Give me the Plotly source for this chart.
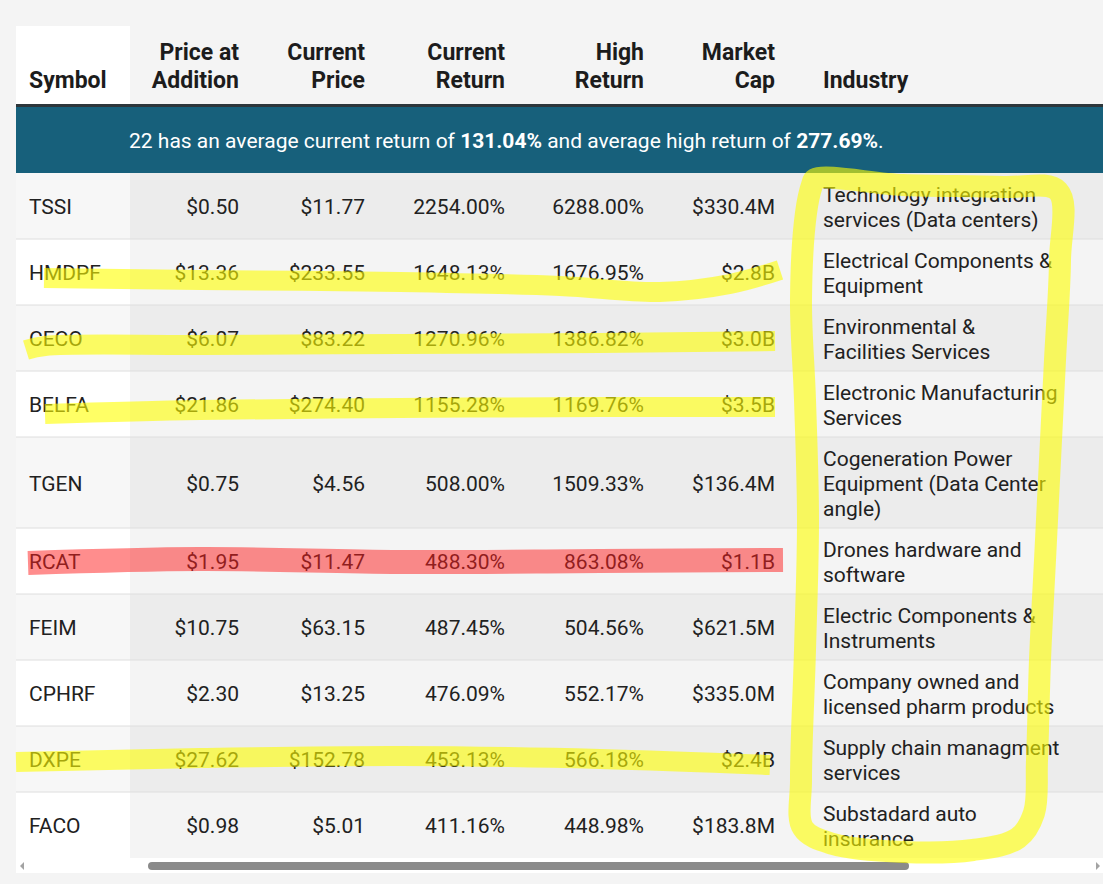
import plotly.graph_objects as go

# ---- table data ----
symbols = ["TSSI", "HMDPF", "CECO", "BELFA", "TGEN", "RCAT", "FEIM", "CPHRF", "DXPE", "FACO"]
price_at_addition = [0.50, 13.36, 6.07, 21.86, 0.75, 1.95, 10.75, 2.30, 27.62, 0.98]
current_price = [11.77, 233.55, 83.22, 274.40, 4.56, 11.47, 63.15, 13.25, 152.78, 5.01]
current_return = [2254.00, 1648.13, 1270.96, 1155.28, 508.00, 488.30, 487.45, 476.09, 453.13, 411.16]
high_return = [6288.00, 1676.95, 1386.82, 1169.76, 1509.33, 863.08, 504.56, 552.17, 566.18, 448.98]
market_cap = ["$330.4M", "$2.8B", "$3.0B", "$3.5B", "$136.4M", "$1.1B", "$621.5M", "$335.0M", "$2.4B", "$183.8M"]
industry = [
    "Technology integration<br>services (Data centers)",
    "Electrical Components &<br>Equipment",
    "Environmental &<br>Facilities Services",
    "Electronic Manufacturing<br>Services",
    "Cogeneration Power<br>Equipment (Data Center<br>angle)",
    "Drones hardware and<br>software",
    "Electric Components &<br>Instruments",
    "Company owned and<br>licensed pharm products",
    "Supply chain managment<br>services",
    "Substadard auto<br>insurance",
]
headers = ["Symbol", "Price at<br>Addition", "Current<br>Price", "Current<br>Return",
           "High<br>Return", "Market<br>Cap", "Industry"]
group_name = "22"
avg_current_return = 131.04
avg_high_return = 277.69

# rows marked with a highlighter in the screenshot
marked_rows = {"HMDPF": "yellow", "CECO": "yellow", "BELFA": "yellow", "RCAT": "red", "DXPE": "yellow"}

# ---- page geometry (pixels) ----
W, H = 1103, 884
LEFT = 16
HEAD_TOP, HEAD_BOT = 26, 104
RULE_BOT = 107
BANNER_BOT = 173
SYM_RIGHT = 130
col_x = [29, 239, 365, 505, 644, 775, 823]
col_align = ["left", "right", "right", "right", "right", "right", "left"]

FONT = "Roboto, Arial, sans-serif"
TXT = "#212121"
BG = "#f4f4f4"
BODY_SIZE = 21
HEAD_SIZE = 23
LINE_STEP = 25
HEAD_STEP = 28
TEXT_DY = 3  # plotly's "middle" sits a little high for this font

# row bounds from number of text lines in the industry cell
tops, centers, bottoms = [], [], []
y = BANNER_BOT
for ind in industry:
    h = 16 + LINE_STEP * (ind.count("<br>") + 1)
    tops.append(y)
    centers.append(y + h / 2)
    bottoms.append(y + h)
    y += h
TABLE_BOT = y

shapes = []


def rect(x0, y0, x1, y1, color):
    shapes.append(dict(type="rect", xref="x", yref="y", x0=x0, y0=y0, x1=x1, y1=y1,
                       fillcolor=color, line_width=0, layer="below"))


rect(LEFT, HEAD_TOP, SYM_RIGHT, HEAD_BOT, "#ffffff")
rect(LEFT, HEAD_BOT, W, RULE_BOT, "#2d363b")
rect(LEFT, RULE_BOT, W, BANNER_BOT, "#17607b")
for i in range(len(symbols)):
    odd = i % 2 == 0
    rect(LEFT, tops[i], SYM_RIGHT, bottoms[i], "#f7f7f7" if odd else "#ffffff")
    rect(SYM_RIGHT, tops[i], W, bottoms[i], "#ececec" if odd else "#f4f4f4")
    if i > 0:
        shapes.append(dict(type="line", xref="x", yref="y", x0=LEFT, x1=W, y0=tops[i], y1=tops[i],
                           line=dict(color="#dedede", width=1), layer="below"))
# scrollbar
rect(LEFT, TABLE_BOT, W, TABLE_BOT + 15, "#ffffff")
shapes.append(dict(type="path", xref="x", yref="y", layer="below", fillcolor="#8a8a8a", line_width=0,
                   path=f"M 152 {TABLE_BOT+4} L 905 {TABLE_BOT+4} Q 909 {TABLE_BOT+4} 909 {TABLE_BOT+8} "
                        f"Q 909 {TABLE_BOT+12} 905 {TABLE_BOT+12} L 152 {TABLE_BOT+12} "
                        f"Q 148 {TABLE_BOT+12} 148 {TABLE_BOT+8} Q 148 {TABLE_BOT+4} 152 {TABLE_BOT+4} Z"))
shapes.append(dict(type="path", xref="x", yref="y", layer="below", fillcolor="#a3a3a3", line_width=0,
                   path=f"M 24 {TABLE_BOT+4} L 20 {TABLE_BOT+8} L 24 {TABLE_BOT+12} Z"))
shapes.append(dict(type="path", xref="x", yref="y", layer="below", fillcolor="#a3a3a3", line_width=0,
                   path=f"M 1096 {TABLE_BOT+4} L 1100 {TABLE_BOT+8} L 1096 {TABLE_BOT+12} Z"))

fig = go.Figure()


def add_text(xs, ys, texts, align, size, color, bold=False):
    if bold:
        texts = [f"<b>{t}</b>" for t in texts]
    fig.add_trace(go.Scatter(
        x=xs, y=[v + TEXT_DY for v in ys], mode="text", text=texts,
        textposition="middle right" if align == "left" else "middle left",
        textfont=dict(family=FONT, size=size, color=color), hoverinfo="skip"))


# header: lines stacked up from a common bottom line
for k, head in enumerate(headers):
    lines = head.split("<br>")
    n = len(lines)
    ys = [79 - (n - 1 - j) * HEAD_STEP for j in range(n)]
    add_text([col_x[k]] * n, ys, lines, col_align[k], HEAD_SIZE, "#1c1c1c", bold=True)

# banner
add_text([129], [(RULE_BOT + BANNER_BOT) / 2],
         [f"{group_name} has an average current return of <b>{avg_current_return:.2f}%</b> "
          f"and average high return of <b>{avg_high_return:.2f}%</b>."],
         "left", 21, "#ffffff")

# body columns
columns = [
    symbols,
    [f"${v:.2f}" for v in price_at_addition],
    [f"${v:.2f}" for v in current_price],
    [f"{v:.2f}%" for v in current_return],
    [f"{v:.2f}%" for v in high_return],
    market_cap,
]
for k, col in enumerate(columns):
    add_text([col_x[k]] * len(col), centers, col, col_align[k], BODY_SIZE, TXT)

# industry: one text line at a time, centred in the row
ind_x, ind_y, ind_t = [], [], []
for i, ind in enumerate(industry):
    lines = ind.split("<br>")
    n = len(lines)
    for j, ln in enumerate(lines):
        ind_x.append(col_x[6])
        ind_y.append(centers[i] + (j - (n - 1) / 2) * LINE_STEP)
        ind_t.append(ln)
add_text(ind_x, ind_y, ind_t, "left", BODY_SIZE, TXT)

# highlighter strokes across marked rows: (x, offset from row centre)
wobble = {
    "HMDPF": [(44, 6), (200, 8), (400, 10), (560, 14), (660, 20), (730, 12), (780, -2)],
    "CECO": [(26, 12), (45, 8), (200, 7), (400, 6), (600, 5), (775, 3)],
    "BELFA": [(45, 10), (200, 6), (400, 4), (600, 3), (775, 3)],
    "RCAT": [(28, 2), (200, -2), (400, 1), (600, 0), (783, -1)],
    "DXPE": [(16, 3), (200, -1), (400, -3), (600, 0), (770, 6)],
}
stroke_style = {"yellow": dict(color="rgb(255,255,0)", width=20, opacity=0.6),
                "red": dict(color="rgb(255,30,30)", width=24, opacity=0.5)}
for sym, colr in marked_rows.items():
    i = symbols.index(sym)
    st = stroke_style[colr]
    fig.add_trace(go.Scatter(
        x=[p[0] for p in wobble[sym]], y=[centers[i] + p[1] for p in wobble[sym]],
        mode="lines", line=dict(color=st["color"], width=st["width"], shape="spline"),
        opacity=st["opacity"], hoverinfo="skip"))

# freehand loop around the Industry column (offsets from the column's left edge / table bounds)
IND = col_x[6]
loop = [(-11, BANNER_BOT + 12), (-8, BANNER_BOT + 6), (80, BANNER_BOT + 12), (180, BANNER_BOT + 14),
        (235, BANNER_BOT + 18), (237, 260), (232, 360), (227, 460), (222, 560), (217, 660),
        (214, 760), (211, TABLE_BOT - 45), (195, TABLE_BOT - 20), (150, TABLE_BOT - 8),
        (80, TABLE_BOT - 6), (10, TABLE_BOT - 14), (-20, TABLE_BOT - 30), (-22, 780),
        (-18, 650), (-15, 520), (-18, 400), (-22, 300), (-17, BANNER_BOT + 40), (-11, BANNER_BOT + 12)]
fig.add_trace(go.Scatter(
    x=[IND + p[0] for p in loop], y=[p[1] for p in loop], mode="lines",
    line=dict(color="rgb(255,255,0)", width=22, shape="spline"), opacity=0.6, hoverinfo="skip"))

fig.update_layout(
    width=W, height=H, autosize=False, showlegend=False,
    margin=dict(l=0, r=0, t=0, b=0),
    paper_bgcolor=BG, plot_bgcolor=BG,
    xaxis=dict(range=[0, W], visible=False, fixedrange=True),
    yaxis=dict(range=[H, 0], visible=False, fixedrange=True),
    shapes=shapes,
)

# drop the page's default 8px body margin so the figure sits flush in the window
fig.write_html("out.html", config={"displayModeBar": False},
               post_script="document.body.style.margin='0';document.body.style.background='#f4f4f4';")
